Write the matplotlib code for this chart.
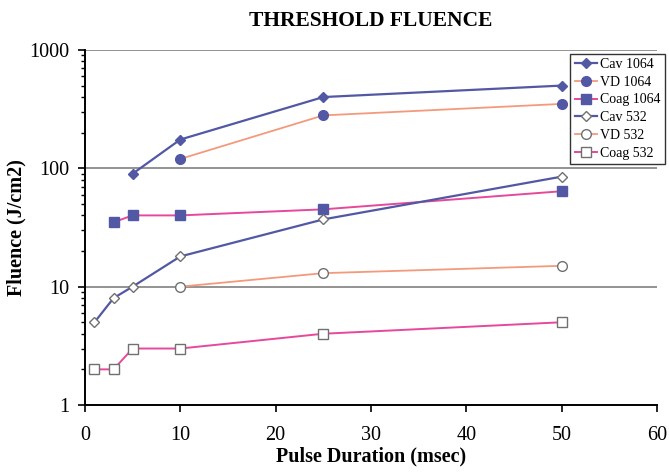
import matplotlib.pyplot as plt
import numpy as np

plt.rcParams['font.family'] = ['Liberation Serif', 'DejaVu Serif']
plt.rcParams['font.weight'] = 'bold'

# data
cav1064_x = [5, 10, 25, 50]
cav1064_y = [90, 175, 400, 500]
vd1064_x = [10, 25, 50]
vd1064_y = [120, 280, 350]
coag1064_x = [3, 5, 10, 25, 50]
coag1064_y = [35, 40, 40, 45, 64]
cav532_x = [1, 3, 5, 10, 25, 50]
cav532_y = [5, 8, 10, 18, 37, 85]
vd532_x = [10, 25, 50]
vd532_y = [10, 13, 15]
coag532_x = [1, 3, 5, 10, 25, 50]
coag532_y = [2, 2, 3, 3, 4, 5]

blue = '#5258a4'
salmon = '#f49a7c'
pink = '#e6489c'
grey = '#707070'

fig = plt.figure(figsize=(6.69, 4.74), dpi=100)
ax = fig.add_axes([0.127, 0.1456, 0.855, 0.749])

ax.plot(cav1064_x, cav1064_y, '-', color=blue, lw=1.6, marker='D', ms=5,
        mfc=blue, mec=blue, label='Cav 1064')
ax.plot(vd1064_x, vd1064_y, '-', color=salmon, lw=1.3, marker='o', ms=7,
        mfc=blue, mec=blue, label='VD 1064')
ax.plot(coag1064_x, coag1064_y, '-', color=pink, lw=1.4, marker='s', ms=7,
        mfc=blue, mec=blue, label='Coag 1064')
ax.plot(cav532_x, cav532_y, '-', color=blue, lw=1.6, marker='D', ms=5,
        mfc='white', mec=grey, mew=1.0, label='Cav 532')
ax.plot(vd532_x, vd532_y, '-', color=salmon, lw=1.3, marker='o', ms=7,
        mfc='white', mec=grey, mew=1.0, label='VD 532')
ax.plot(coag532_x, coag532_y, '-', color=pink, lw=1.4, marker='s', ms=7,
        mfc='white', mec=grey, mew=1.0, label='Coag 532')

ax.set_yscale('log')
ax.set_ylim(1, 1000)
ax.set_xlim(0, 60)
ax.set_xticks(np.arange(0, 61, 10))
ax.set_yticks([1, 10, 100, 1000])
ax.set_yticklabels(['1', '10', '100', '1000'])
ax.tick_params(axis='both', labelsize=14.5, direction='out', length=5, width=1.2)
ax.tick_params(axis='x', pad=10)
ax.tick_params(axis='y', pad=6)
ax.tick_params(axis='y', which='minor', direction='out', length=3, width=1)
ax.tick_params(axis='x', which='minor', bottom=False)
for lab in ax.get_xticklabels() + ax.get_yticklabels():
    lab.set_fontweight('normal')

ax.yaxis.grid(True, which='major', color='#808080', lw=1.2)
ax.set_axisbelow(True)
ax.spines['top'].set_visible(False)
ax.spines['right'].set_visible(False)
ax.spines['left'].set_linewidth(1.4)
ax.spines['bottom'].set_linewidth(1.4)

ax.set_xlabel('Pulse Duration (msec)', fontsize=14.5, fontweight='bold', labelpad=1)
ax.set_ylabel('Fluence (J/cm2)', fontsize=14.5, fontweight='bold', labelpad=2)
ax.set_title('THRESHOLD FLUENCE', fontsize=15.5, fontweight='bold', pad=17)

leg = ax.legend(loc='upper right', bbox_to_anchor=(1.014, 0.99), borderaxespad=0,
                frameon=True, fancybox=False, edgecolor='black',
                handlelength=1.6, handletextpad=0.25, labelspacing=0.35,
                borderpad=0.3, prop={'weight': 'normal', 'size': 10})
leg.get_frame().set_linewidth(1.0)

fig.savefig('out.png', dpi=100)
